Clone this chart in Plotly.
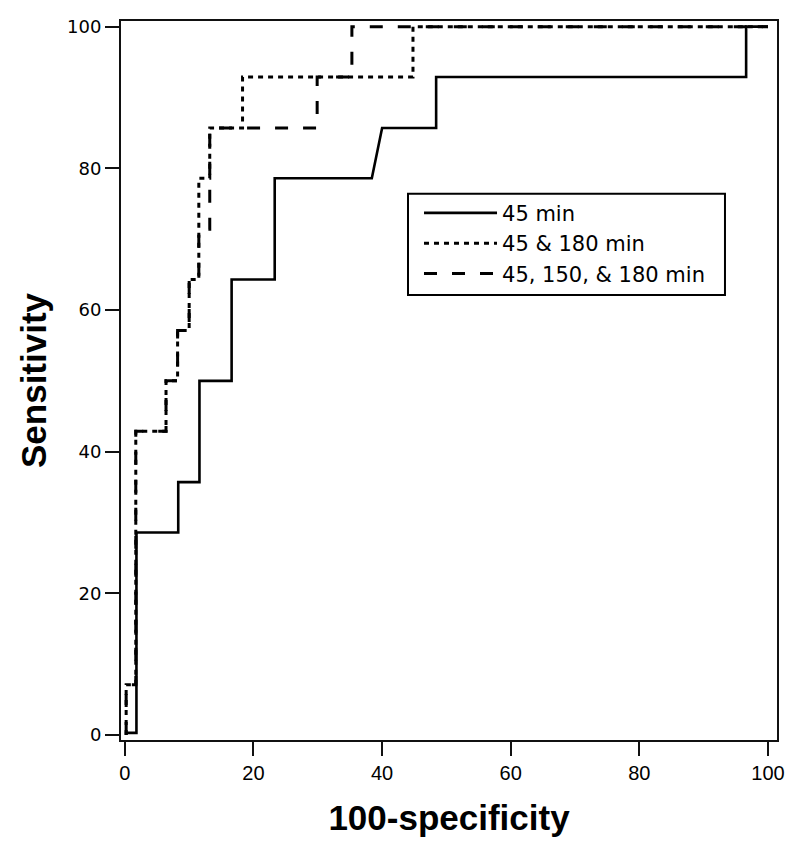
import plotly.graph_objects as go

# ROC curve vertices (x = 100-specificity, y = sensitivity)
fpr_45 = [0, 1.8, 1.8, 8.3, 8.3, 11.6, 11.6, 16.6, 16.6, 23.3, 23.3, 38.4, 40.0, 48.4, 48.4, 96.6, 96.6, 100]
sens_45 = [0.3, 0.3, 28.6, 28.6, 35.7, 35.7, 50.0, 50.0, 64.3, 64.3, 78.6, 78.6, 85.7, 85.7, 92.9, 92.9, 100, 100]

fpr_45_180 = [0.2, 0.2, 1.7, 1.7, 6.4, 6.4, 8.2, 8.2, 10.0, 10.0, 11.5, 11.5, 13.2, 13.2, 18.3, 18.3, 44.8, 44.8, 100]
sens_45_180 = [0, 7.1, 7.1, 42.9, 42.9, 50.0, 50.0, 57.1, 57.1, 64.3, 64.3, 78.6, 78.6, 85.7, 85.7, 92.9, 92.9, 100, 100]

fpr_45_150_180 = [0.2, 0.2, 1.7, 1.7, 6.4, 6.4, 8.2, 8.2, 10.0, 10.0, 11.5, 11.5, 13.2, 13.2, 29.9, 29.9, 35.3, 35.3, 100]
sens_45_150_180 = [0, 7.1, 7.1, 42.9, 42.9, 50.0, 50.0, 57.1, 57.1, 64.3, 64.3, 71.4, 71.4, 85.7, 85.7, 92.9, 92.9, 100, 100]

series_names = ["45 min", "45 & 180 min", "45, 150, & 180 min"]
tick_vals = [0, 20, 40, 60, 80, 100]

fig = go.Figure()
fig.add_trace(go.Scatter(x=fpr_45, y=sens_45, mode="lines", name=series_names[0],
                         line=dict(color="black", width=2.6)))
fig.add_trace(go.Scatter(x=fpr_45_180, y=sens_45_180, mode="lines", name=series_names[1],
                         line=dict(color="black", width=3, dash="5px,5px")))
fig.add_trace(go.Scatter(x=fpr_45_150_180, y=sens_45_150_180, mode="lines", name=series_names[2],
                         line=dict(color="black", width=3, dash="13px,15px")))

axis_common = dict(
    showline=True, linecolor="#111", linewidth=2, mirror=True,
    ticks="outside", ticklen=14, tickwidth=2, tickcolor="#111",
    showgrid=False, zeroline=False, tickvals=tick_vals,
)

title_font = dict(family="Liberation Sans, Arial", size=35, color="black", weight="bold")

fig.update_layout(
    width=792, height=847,
    margin=dict(l=113, r=23, t=8, b=115),
    paper_bgcolor="white", plot_bgcolor="white",
    xaxis=dict(range=[-0.6, 101.4],
               title=dict(text="100-specificity", standoff=22, font=title_font),
               tickfont=dict(family="Liberation Sans, Arial", size=20, color="black"),
               **axis_common),
    yaxis=dict(range=[-0.7, 100.8],
               title=dict(text="Sensitivity", standoff=10, font=title_font),
               tickfont=dict(family="DejaVu Sans", size=18, color="black"),
               **axis_common),
    legend=dict(x=0.4543, y=0.7611, xanchor="left", yanchor="top",
                bgcolor="rgba(0,0,0,0)", borderwidth=0,
                font=dict(family="DejaVu Sans", size=21, color="black"),
                itemwidth=73, tracegroupgap=0),
    showlegend=True,
    shapes=[dict(type="rect", xref="paper", yref="paper",
                 x0=0.4375, x1=0.9207, y0=0.6188, y1=0.7597,
                 line=dict(color="black", width=2), fillcolor="white", layer="below")],
)

fig.write_html("out.html")
